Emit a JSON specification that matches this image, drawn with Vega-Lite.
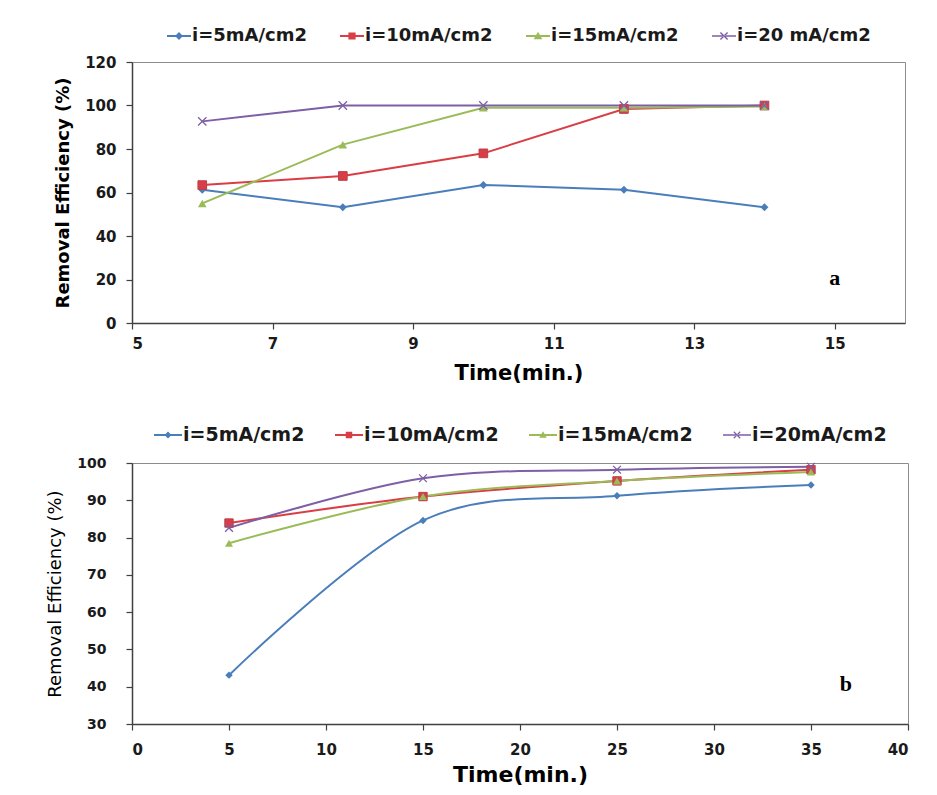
{
  "$schema": "https://vega.github.io/schema/vega-lite/v6.json",
  "background": "white",
  "padding": {"left": 46, "top": 23, "right": 5, "bottom": 5},
  "spacing": 36,
  "config": {
    "view": {"stroke": "#8c8c8c", "strokeWidth": 1},
    "axis": {"grid": false, "domainColor": "#404040", "domainWidth": 1.5, "tickColor": "#404040", "tickWidth": 1.2, "tickSize": 6, "labelFont": "DejaVu Sans", "labelFontWeight": "bold", "labelColor": "#1a1a1a", "titleFont": "DejaVu Sans", "titleFontWeight": "bold", "titleColor": "#000000"},
    "legend": {"layout": {"top": {"anchor": "middle"}}}
  },
  "resolve": {"scale": {"color": "independent", "shape": "independent"}, "legend": {"color": "independent"}},
  "vconcat": [
    {
      "width": 773,
      "height": 261,
      "data": {"values": [
        {"t": 6, "re": 61.3, "series": "i=5mA/cm2"},
        {"t": 8, "re": 53.2, "series": "i=5mA/cm2"},
        {"t": 10, "re": 63.5, "series": "i=5mA/cm2"},
        {"t": 12, "re": 61.3, "series": "i=5mA/cm2"},
        {"t": 14, "re": 53.2, "series": "i=5mA/cm2"},
        {"t": 6, "re": 63.4, "series": "i=10mA/cm2"},
        {"t": 8, "re": 67.6, "series": "i=10mA/cm2"},
        {"t": 10, "re": 78, "series": "i=10mA/cm2"},
        {"t": 12, "re": 98.4, "series": "i=10mA/cm2"},
        {"t": 14, "re": 100, "series": "i=10mA/cm2"},
        {"t": 6, "re": 55, "series": "i=15mA/cm2"},
        {"t": 8, "re": 82, "series": "i=15mA/cm2"},
        {"t": 10, "re": 99, "series": "i=15mA/cm2"},
        {"t": 12, "re": 99, "series": "i=15mA/cm2"},
        {"t": 14, "re": 99.5, "series": "i=15mA/cm2"},
        {"t": 6, "re": 92.7, "series": "i=20 mA/cm2"},
        {"t": 8, "re": 100, "series": "i=20 mA/cm2"},
        {"t": 10, "re": 100, "series": "i=20 mA/cm2"},
        {"t": 12, "re": 100, "series": "i=20 mA/cm2"},
        {"t": 14, "re": 100, "series": "i=20 mA/cm2"}
      ]},
      "encoding": {
        "x": {"field": "t", "type": "quantitative", "scale": {"domain": [5, 16], "nice": false, "zero": false},
              "axis": {"values": [5, 7, 9, 11, 13, 15], "title": "Time(min.)", "labelFontSize": 15, "labelPadding": 7, "titleFontSize": 21, "titlePadding": 11}},
        "y": {"field": "re", "type": "quantitative", "scale": {"domain": [0, 120], "nice": false},
              "axis": {"values": [0, 20, 40, 60, 80, 100, 120], "title": "Removal Efficiency (%)", "labelFontSize": 15, "labelPadding": 10, "titleFontSize": 18, "titlePadding": 12}},
        "color": {"field": "series", "type": "nominal",
          "scale": {"domain": ["i=5mA/cm2", "i=10mA/cm2", "i=15mA/cm2", "i=20 mA/cm2"], "range": ["#4a7ebb", "#d93d45", "#9bbb59", "#7d5fa6"]},
          "legend": {"title": null, "orient": "top", "direction": "horizontal", "offset": 17, "columnPadding": 33, "labelFont": "DejaVu Sans", "labelFontWeight": "bold", "labelFontSize": 18, "labelColor": "#1a1a1a", "labelOffset": 1, "symbolSize": 576, "symbolStrokeWidth": 0, "symbolOpacity": 1}}
      },
      "layer": [
        {
          "mark": {"type": "line", "strokeWidth": 2}
        },
        {
          "transform": [{"filter": "false"}],
          "mark": {"type": "point", "filled": true, "opacity": 1},
          "encoding": {
            "shape": {"field": "series", "type": "nominal", "legend": null,
              "scale": {"domain": ["i=5mA/cm2", "i=10mA/cm2", "i=15mA/cm2", "i=20 mA/cm2"],
                "range": [
                  "M-1,-0.09L1,-0.09L1,0.09L-1,0.09ZM0,-0.33L0.33,0L0,0.33L-0.33,0Z",
                  "M-1,-0.09L1,-0.09L1,0.09L-1,0.09ZM-0.3,-0.3L0.3,-0.3L0.3,0.3L-0.3,0.3Z",
                  "M-1,-0.09L1,-0.09L1,0.09L-1,0.09ZM0,-0.35L0.36,0.27L-0.36,0.27Z",
                  "M-1,-0.07L1,-0.07L1,0.07L-1,0.07ZM-0.34,-0.26L-0.26,-0.34L0.34,0.26L0.26,0.34ZM-0.34,0.26L-0.26,0.34L0.34,-0.26L0.26,-0.34Z"
                ]}}
          }
        },
        {
          "transform": [{"filter": "datum.series == 'i=5mA/cm2'"}],
          "mark": {"type": "point", "shape": "diamond", "filled": true, "opacity": 1, "size": 64}
        },
        {
          "transform": [{"filter": "datum.series == 'i=10mA/cm2'"}],
          "mark": {"type": "point", "shape": "square", "filled": true, "opacity": 1, "size": 75, "stroke": "#b8404a", "strokeWidth": 1}
        },
        {
          "transform": [{"filter": "datum.series == 'i=15mA/cm2'"}],
          "mark": {"type": "point", "shape": "triangle-up", "filled": true, "opacity": 1, "size": 75}
        },
        {
          "transform": [{"filter": "datum.series == 'i=20 mA/cm2'"}],
          "mark": {"type": "point", "shape": "M-1,-1L1,1M-1,1L1,-1", "filled": false, "opacity": 1, "size": 70, "strokeWidth": 1.3}
        },
        {
          "data": {"values": [{"t": 15, "re": 20.8, "lab": "a"}]},
          "mark": {"type": "text", "font": "Liberation Serif", "fontWeight": "bold", "fontSize": 22, "color": "#000000", "baseline": "middle", "align": "center"},
          "encoding": {"text": {"field": "lab"}, "color": {"value": "#000000"}}
        }
      ]
    },
    {
      "width": 776,
      "height": 261,
      "data": {"values": [
        {"t": 5, "re": 43.1, "series": "i=5mA/cm2"},
        {"t": 15, "re": 84.6, "series": "i=5mA/cm2"},
        {"t": 25, "re": 91.2, "series": "i=5mA/cm2"},
        {"t": 35, "re": 94.1, "series": "i=5mA/cm2"},
        {"t": 5, "re": 83.9, "series": "i=10mA/cm2"},
        {"t": 15, "re": 91, "series": "i=10mA/cm2"},
        {"t": 25, "re": 95.2, "series": "i=10mA/cm2"},
        {"t": 35, "re": 98.2, "series": "i=10mA/cm2"},
        {"t": 5, "re": 78.5, "series": "i=15mA/cm2"},
        {"t": 15, "re": 91, "series": "i=15mA/cm2"},
        {"t": 25, "re": 95.2, "series": "i=15mA/cm2"},
        {"t": 35, "re": 97.6, "series": "i=15mA/cm2"},
        {"t": 5, "re": 82.6, "series": "i=20mA/cm2"},
        {"t": 15, "re": 95.9, "series": "i=20mA/cm2"},
        {"t": 25, "re": 98.2, "series": "i=20mA/cm2"},
        {"t": 35, "re": 99, "series": "i=20mA/cm2"}
      ]},
      "encoding": {
        "x": {"field": "t", "type": "quantitative", "scale": {"domain": [0, 40], "nice": false},
              "axis": {"values": [0, 5, 10, 15, 20, 25, 30, 35, 40], "title": "Time(min.)", "labelFontSize": 15, "labelPadding": 12, "titleFontSize": 22, "titlePadding": 7}},
        "y": {"field": "re", "type": "quantitative", "scale": {"domain": [30, 100], "nice": false, "zero": false},
              "axis": {"values": [30, 40, 50, 60, 70, 80, 90, 100], "title": "Removal Efficiency (%)", "titleFontWeight": "normal", "labelFontSize": 14, "labelPadding": 20, "titleFontSize": 18, "titlePadding": 12}},
        "color": {"field": "series", "type": "nominal",
          "scale": {"domain": ["i=5mA/cm2", "i=10mA/cm2", "i=15mA/cm2", "i=20mA/cm2"], "range": ["#4a7ebb", "#d93d45", "#9bbb59", "#7d5fa6"]},
          "legend": {"title": null, "orient": "top", "direction": "horizontal", "offset": 17, "columnPadding": 30, "labelFont": "DejaVu Sans", "labelFontWeight": "bold", "labelFontSize": 19, "labelColor": "#1a1a1a", "labelOffset": 1, "symbolSize": 784, "symbolStrokeWidth": 0, "symbolOpacity": 1}}
      },
      "layer": [
        {
          "mark": {"type": "line", "strokeWidth": 2, "interpolate": "cardinal"}
        },
        {
          "transform": [{"filter": "false"}],
          "mark": {"type": "point", "filled": true, "opacity": 1},
          "encoding": {
            "shape": {"field": "series", "type": "nominal", "legend": null,
              "scale": {"domain": ["i=5mA/cm2", "i=10mA/cm2", "i=15mA/cm2", "i=20mA/cm2"],
                "range": [
                  "M-1,-0.075L1,-0.075L1,0.075L-1,0.075ZM0,-0.25L0.25,0L0,0.25L-0.25,0Z",
                  "M-1,-0.075L1,-0.075L1,0.075L-1,0.075ZM-0.23,-0.23L0.23,-0.23L0.23,0.23L-0.23,0.23Z",
                  "M-1,-0.075L1,-0.075L1,0.075L-1,0.075ZM0,-0.26L0.27,0.2L-0.27,0.2Z",
                  "M-1,-0.06L1,-0.06L1,0.06L-1,0.06ZM-0.26,-0.2L-0.2,-0.26L0.26,0.2L0.2,0.26ZM-0.26,0.2L-0.2,0.26L0.26,-0.2L0.2,-0.26Z"
                ]}}
          }
        },
        {
          "transform": [{"filter": "datum.series == 'i=5mA/cm2'"}],
          "mark": {"type": "point", "shape": "diamond", "filled": true, "opacity": 1, "size": 55}
        },
        {
          "transform": [{"filter": "datum.series == 'i=10mA/cm2'"}],
          "mark": {"type": "point", "shape": "square", "filled": true, "opacity": 1, "size": 70, "stroke": "#b8404a", "strokeWidth": 1}
        },
        {
          "transform": [{"filter": "datum.series == 'i=15mA/cm2'"}],
          "mark": {"type": "point", "shape": "triangle-up", "filled": true, "opacity": 1, "size": 65}
        },
        {
          "transform": [{"filter": "datum.series == 'i=20mA/cm2'"}],
          "mark": {"type": "point", "shape": "M-1,-1L1,1M-1,1L1,-1", "filled": false, "opacity": 1, "size": 60, "strokeWidth": 1.3}
        },
        {
          "data": {"values": [{"t": 36.8, "re": 40.8, "lab": "b"}]},
          "mark": {"type": "text", "font": "Liberation Serif", "fontWeight": "bold", "fontSize": 22, "color": "#000000", "baseline": "middle", "align": "center"},
          "encoding": {"text": {"field": "lab"}, "color": {"value": "#000000"}}
        }
      ]
    }
  ]
}
